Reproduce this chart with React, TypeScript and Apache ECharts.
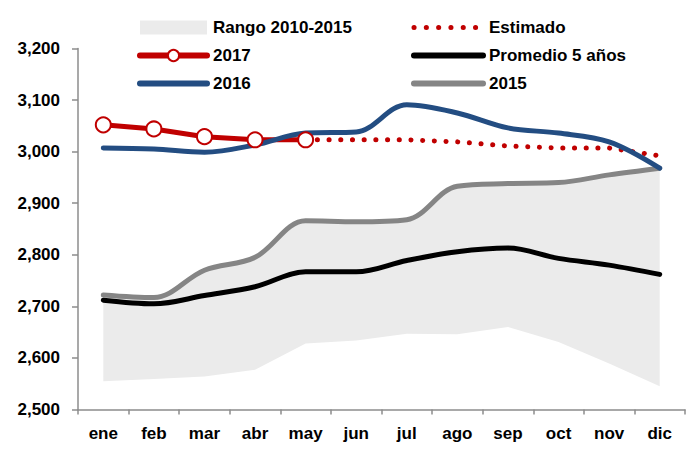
import React, { useEffect, useRef } from "react";
import * as echarts from "echarts";

const months = ["ene", "feb", "mar", "abr", "may", "jun", "jul", "ago", "sep", "oct", "nov", "dic"];
const rangeLow = [2555, 2559, 2564, 2577, 2628, 2634, 2647, 2646, 2660, 2631, 2589, 2545];
const y2015 = [2722, 2717, 2770, 2795, 2866, 2864, 2868, 2933, 2938, 2940, 2955, 2968];
const promedio = [2712, 2705, 2721, 2738, 2767, 2767, 2789, 2806, 2813, 2793, 2780, 2762];
const y2016 = [3007, 3005, 2999, 3013, 3036, 3038, 3091, 3075, 3046, 3036, 3019, 2968];
const y2017 = [3052, 3044, 3029, 3023, 3023];
const estimado = [null, null, null, null, 3023, 3023, 3023, 3019, 3011, 3007, 3007, 2992];
const yTicks = [2500, 3200, 100];

const FONT = "'Liberation Sans', Arial, sans-serif";

export default function App() {
  const ref = useRef<HTMLDivElement>(null);
  useEffect(() => {
    if (!ref.current) return;
    const chart = echarts.init(ref.current, null, { renderer: "svg" });
    const bandTop = y2015.map((v, i) => v - rangeLow[i]);
    const legendText = { fontFamily: FONT, fontWeight: "bold" as const, fontSize: 17, color: "#000", padding: [0, 0, 0, 1] };
    const hidden = { opacity: 0 };
    const thick = (color: string) => ({ width: 6, cap: "round", color, type: "solid" });
    chart.setOption({
      animation: false,
      backgroundColor: "#fff",
      grid: { left: 78, right: 5, top: 48.5, bottom: 43.5, containLabel: false },
      legend: [
        {
          orient: "vertical",
          left: 137,
          top: 19,
          padding: 0,
          itemWidth: 67,
          itemHeight: 14,
          itemGap: 11,
          textStyle: legendText,
          data: [
            { name: "Rango 2010-2015", icon: "rect", itemStyle: { color: "#ebebeb" } },
            { name: "2017", lineStyle: thick("#c00000") },
            { name: "2016", itemStyle: hidden, lineStyle: thick("#234d82") },
          ],
        },
        {
          orient: "vertical",
          left: 411,
          top: 19,
          padding: 0,
          itemWidth: 69,
          itemHeight: 14,
          itemGap: 11,
          textStyle: legendText,
          data: [
            { name: "Estimado", itemStyle: hidden, lineStyle: { width: 5, cap: "round", color: "#c00000", type: [0.1, 12.2] } },
            { name: "Promedio 5 años", itemStyle: hidden, lineStyle: thick("#000") },
            { name: "2015", itemStyle: hidden, lineStyle: thick("#858585") },
          ],
        },
      ],
      xAxis: {
        type: "category",
        data: months,
        boundaryGap: true,
        axisLine: { show: true, lineStyle: { color: "#8c8c8c", width: 1.5 } },
        axisTick: { show: true, length: 5, lineStyle: { color: "#8c8c8c", width: 1.5 } },
        axisLabel: { interval: 0, fontFamily: FONT, fontWeight: "bold", fontSize: 17, color: "#000", margin: 15 },
        splitLine: { show: false },
      },
      yAxis: {
        type: "value",
        min: yTicks[0],
        max: yTicks[1],
        interval: yTicks[2],
        axisLine: { show: true, lineStyle: { color: "#8c8c8c", width: 1.5 } },
        axisTick: { show: true, length: 6, lineStyle: { color: "#8c8c8c", width: 1.5 } },
        axisLabel: {
          fontFamily: FONT,
          fontWeight: "bold",
          fontSize: 17,
          color: "#000",
          margin: 18,
          formatter: (v: number) => v.toLocaleString("en-US"),
        },
        splitLine: { show: false },
      },
      series: [
        {
          name: "lower",
          type: "line",
          stack: "band",
          data: rangeLow,
          symbol: "none",
          lineStyle: { width: 0, opacity: 0 },
          silent: true,
        },
        {
          name: "Rango 2010-2015",
          type: "line",
          stack: "band",
          data: bandTop,
          symbol: "none",
          smooth: 0.35,
          itemStyle: { color: "#ebebeb" },
          lineStyle: { width: 0, opacity: 0 },
          areaStyle: { color: "#ebebeb", opacity: 1 },
          silent: true,
        },
        {
          name: "2015",
          type: "line",
          data: y2015,
          symbol: "none",
          smooth: 0.35,
          itemStyle: { color: "#858585" },
          lineStyle: { color: "#858585", width: 5, cap: "round" },
        },
        {
          name: "Promedio 5 años",
          type: "line",
          data: promedio,
          symbol: "none",
          smooth: 0.35,
          itemStyle: { color: "#000" },
          lineStyle: { color: "#000", width: 5, cap: "round" },
        },
        {
          name: "Estimado",
          type: "line",
          data: estimado,
          symbol: "none",
          itemStyle: { color: "#c00000" },
          lineStyle: { color: "#c00000", width: 5, type: [0.1, 11.6], cap: "round" },
        },
        {
          name: "2017",
          type: "line",
          data: y2017,
          symbol: "circle",
          symbolSize: 15,
          showSymbol: true,
          itemStyle: { color: "#fff", borderColor: "#c00000", borderWidth: 2 },
          lineStyle: { color: "#c00000", width: 5, cap: "round" },
        },
        {
          name: "2016",
          type: "line",
          data: y2016,
          symbol: "none",
          smooth: 0.35,
          itemStyle: { color: "#234d82" },
          lineStyle: { color: "#234d82", width: 5, cap: "round" },
        },
      ],
    });
    return () => chart.dispose();
  }, []);
  return (
    <div
      ref={ref}
      style={{ position: "fixed", left: 0, top: 0, width: 690, height: 453, background: "#fff" }}
    />
  );
}
